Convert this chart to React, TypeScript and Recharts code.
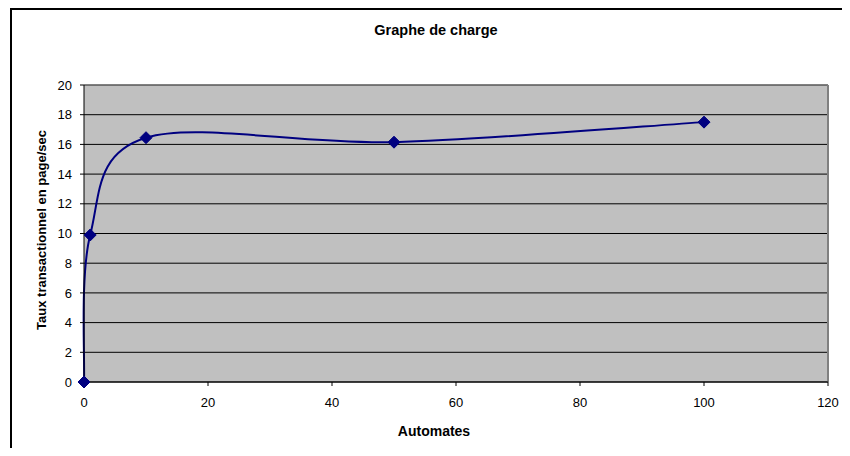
import React from 'react';
import { LineChart, Line, XAxis, YAxis, CartesianGrid, ReferenceLine } from 'recharts';

const automates = [0, 1, 10, 50, 100];
const taux = [0, 9.9, 16.45, 16.15, 17.5];
const xTicks = [0, 20, 40, 60, 80, 100, 120];
const yTicks = [0, 2, 4, 6, 8, 10, 12, 14, 16, 18, 20];

const data = automates.map((x, i) => ({ x, y: taux[i] }));

// Excel-like smoothed line (Catmull-Rom -> Bezier, tension 1/6)
function excelCurve(context: any) {
  let pts: number[][] = [];
  return {
    areaStart() {},
    areaEnd() {},
    lineStart() { pts = []; },
    point(x: number, y: number) { pts.push([+x, +y]); },
    lineEnd() {
      const n = pts.length;
      if (!n) return;
      context.moveTo(pts[0][0], pts[0][1]);
      for (let i = 0; i < n - 1; i++) {
        const p0 = pts[Math.max(i - 1, 0)];
        const p1 = pts[i];
        const p2 = pts[i + 1];
        const p3 = pts[Math.min(i + 2, n - 1)];
        context.bezierCurveTo(
          p1[0] + (p2[0] - p0[0]) / 6,
          p1[1] + (p2[1] - p0[1]) / 6,
          p2[0] - (p3[0] - p1[0]) / 6,
          p2[1] - (p3[1] - p1[1]) / 6,
          p2[0],
          p2[1]
        );
      }
    },
  };
}

const Diamond = (props: any) => {
  const { cx, cy } = props;
  if (cx == null || cy == null) return null;
  const r = 6;
  return (
    <path
      d={`M${cx},${cy - r}L${cx + r},${cy}L${cx},${cy + r}L${cx - r},${cy}Z`}
      fill="#000080"
      stroke="#000080"
      strokeWidth={1}
    />
  );
};

const FONT = '"Liberation Sans", Arial, sans-serif';

export default function App() {
  return (
    <div style={{ position: 'relative', width: 834, height: 440, overflow: 'hidden', fontFamily: FONT }}>
      <div
        style={{
          position: 'absolute',
          left: 2,
          top: 0,
          width: 900,
          height: 600,
          border: '2px solid #000',
          boxSizing: 'border-box',
        }}
      />
      <div style={{ position: 'absolute', left: 0, top: 0 }}>
        <LineChart
          width={834}
          height={440}
          data={data}
          margin={{ top: 77, right: 14, bottom: 36, left: 16 }}
          style={{ fontFamily: FONT }}
        >
          <CartesianGrid
            fill="#C0C0C0"
            stroke="#000"
            strokeWidth={1}
            vertical={false}
            horizontalValues={yTicks}
          />
          <XAxis
            dataKey="x"
            type="number"
            domain={[0, 120]}
            ticks={xTicks}
            interval={0}
            height={30}
            tickSize={4}
            tickMargin={12}
            axisLine={{ stroke: '#000', strokeWidth: 1 }}
            tickLine={{ stroke: '#000' }}
            tick={{ fill: '#000', fontSize: 13 }}
          />
          <YAxis
            type="number"
            domain={[0, 20]}
            ticks={yTicks}
            interval={0}
            width={60}
            tickSize={4}
            tickMargin={8}
            axisLine={{ stroke: '#000', strokeWidth: 1 }}
            tickLine={{ stroke: '#000' }}
            tick={{ fill: '#000', fontSize: 13 }}
          />
          <ReferenceLine x={120} stroke="#808080" strokeWidth={2} />
          <ReferenceLine y={20} stroke="#808080" strokeWidth={1} />
          <Line
            dataKey="y"
            type={excelCurve as any}
            stroke="#000080"
            strokeWidth={2}
            dot={<Diamond />}
            activeDot={false}
            isAnimationActive={false}
          />
          <text x={428} y={26.5} textAnchor="middle" fontSize={14.5} fontWeight="bold" fill="#000" fontFamily={FONT}>
            Graphe de charge
          </text>
          <text x={426} y={428} textAnchor="middle" fontSize={14} fontWeight="bold" fill="#000" fontFamily={FONT}>
            Automates
          </text>
          <text
            x={38}
            y={222}
            textAnchor="middle"
            fontSize={13}
            fontWeight="bold"
            fill="#000"
            fontFamily={FONT}
            transform="rotate(-90, 38, 222)"
          >
            Taux transactionnel en page/sec
          </text>
        </LineChart>
      </div>
    </div>
  );
}
